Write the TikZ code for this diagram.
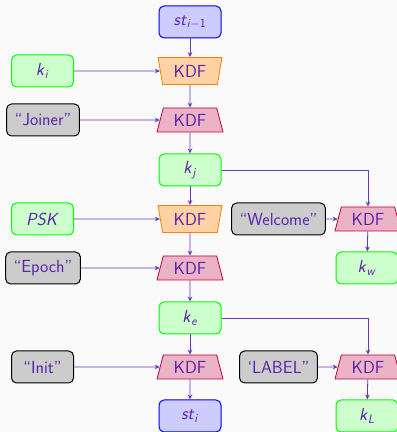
\documentclass[tikz,border=0pt]{standalone}
\usetikzlibrary{shapes.geometric,arrows.meta}
\definecolor{txt}{RGB}{88,34,170}
\definecolor{ln}{RGB}{105,55,185}
\definecolor{bg}{RGB}{250,250,250}
\tikzset{
  x=1pt,y=1pt,
  lbl/.style={text=txt,font=\sffamily\fontsize{17.5}{20}\selectfont},
  box/.style={lbl,rounded corners=5pt,minimum width=62pt,minimum height=32pt,line width=1pt,inner xsep=8pt},
  stbox/.style={box,draw=blue,fill=blue!20},
  kbox/.style={box,draw=green,fill=green!20},
  gbox/.style={box,draw=black,fill=black!20},
  kdfo/.style={lbl,trapezium,trapezium left angle=104,trapezium right angle=104,trapezium stretches body,minimum width=64pt,minimum height=27pt,inner xsep=1pt,draw=orange,fill=orange!35,line width=0.8pt},
  kdfp/.style={lbl,trapezium,trapezium left angle=66,trapezium right angle=66,trapezium stretches body,minimum width=66pt,minimum height=24pt,inner xsep=1pt,inner ysep=1pt,draw=purple,fill=purple!30,line width=0.8pt},
  conn/.style={draw=ln,line width=0.8pt,-{Stealth[length=5pt,width=4.5pt]}},
}
\newcommand\sub[2]{\textit{#1}\textsubscript{#2}}
\begin{document}
\begin{tikzpicture}
\fill[bg] (0,0) rectangle (397,432);
\useasboundingbox (0,0) rectangle (397,432);
% middle column
\node[stbox] (sti1) at (190,410) {\sub{st}{\textit{i}$-$1}};
\node[kdfo] (kdf1) at (190,361) {KDF};
\node[kdfp] (kdf2) at (190,312) {KDF};
\node[kbox] (kj) at (190,262) {\sub{k}{\textit{j}}};
\node[kdfo] (kdf3) at (190,213) {KDF};
\node[kdfp] (kdf4) at (190,164) {KDF};
\node[kbox] (ke) at (190,114) {\sub{k}{\textit{e}}};
\node[kdfp] (kdf5) at (190,65) {KDF};
\node[stbox] (sti) at (190,16) {\sub{st}{\textit{i}}};
% left column
\node[kbox] (ki) at (42.5,361) {\sub{k}{\textit{i}}};
\node[gbox] (joiner) at (43,312) {“Joiner”};
\node[kbox] (psk) at (42.5,213) {\textit{PSK}};
\node[gbox] (epoch) at (43,164) {“Epoch”};
\node[gbox] (init) at (42.5,65) {“Init”};
% right side
\node[gbox] (welcome) at (278.5,213) {“Welcome”};
\node[kdfp] (kdfw) at (368,213) {KDF};
\node[kbox] (kw) at (367,164) {\sub{k}{\textit{w}}};
\node[gbox] (label) at (278.5,65) {‘LABEL”};
\node[kdfp] (kdfl) at (368,65) {KDF};
\node[kbox] (kl) at (367,16) {\sub{k}{\textit{L}}};
% connectors
\draw[conn] (sti1) -- (kdf1);
\draw[conn] (ki) -- (kdf1);
\draw[conn] (kdf1) -- (kdf2);
\draw[conn] (joiner) -- (kdf2);
\draw[conn] (kdf2) -- (kj);
\draw[conn] (kj) -- (kdf3);
\draw[conn] (kj.east) -| (kdfw);
\draw[conn] (psk) -- (kdf3);
\draw[conn] (kdf3) -- (kdf4);
\draw[conn] (epoch) -- (kdf4);
\draw[conn] (kdf4) -- (ke);
\draw[conn] (welcome) -- (kdfw);
\draw[conn] (kdfw) -- (kw);
\draw[conn] (ke) -- (kdf5);
\draw[conn] (ke.east) -| (kdfl);
\draw[conn] (init) -- (kdf5);
\draw[conn] (kdf5) -- (sti);
\draw[conn] (label) -- (kdfl);
\draw[conn] (kdfl) -- (kl);
\end{tikzpicture}
\end{document}
